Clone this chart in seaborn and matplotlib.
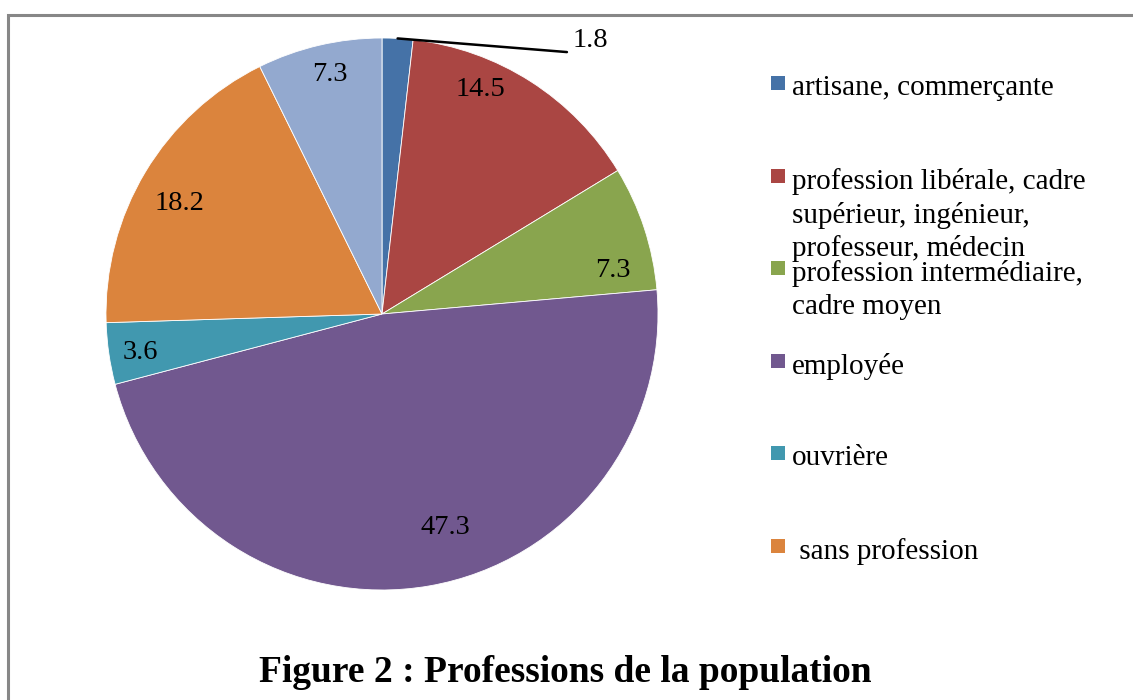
import matplotlib
matplotlib.use("Agg")
import matplotlib.pyplot as plt
from matplotlib.patches import Rectangle
import numpy as np
import seaborn as sns

# Données
valeurs = [1.8, 14.5, 7.3, 47.3, 3.6, 18.2, 7.3]
etiquettes = ["1.8", "14.5", "7.3", "47.3", "3.6", "18.2", "7.3"]
legende = [
    "artisane, commerçante",
    "profession libérale, cadre\nsupérieur, ingénieur,\nprofesseur, médecin",
    "profession intermédiaire,\ncadre moyen",
    "employée",
    "ouvrière",
    " sans profession",
]
couleurs = ["#4572A7", "#AA4643", "#89A54E", "#71588F", "#4198AF", "#DB843D", "#93A9CF"]

# Position des étiquettes (unités du rayon)
pos_etiquettes = [(0.69, 0.99), (0.355, 0.815), (0.837, 0.159), (0.228, -0.775),
                  (-0.877, -0.138), (-0.732, 0.40), (-0.188, 0.866)]

sns.set_theme(style="white")
plt.rcParams['font.family'] = ['Liberation Serif', 'DejaVu Serif']

fig = plt.figure(figsize=(11.33, 7.0), dpi=100)
ax = fig.add_axes([106 / 1133, 110 / 700, 552 / 1133, 552 / 700])

palette = sns.color_palette(couleurs)
wedges, _ = ax.pie(valeurs, colors=palette, startangle=90, counterclock=False,
                   radius=1, wedgeprops=dict(edgecolor='white', linewidth=0.6))
ax.set_xlim(-1, 1)
ax.set_ylim(-1, 1)
ax.set_aspect('equal')
ax.axis('off')

for i, (txt, (x, y)) in enumerate(zip(etiquettes, pos_etiquettes)):
    ax.text(x, y, txt, fontsize=20.5, ha='left' if i == 0 else 'center', va='center', color='black')

# Ligne de rappel pour la petite part
w0 = wedges[0]
ang = np.deg2rad((w0.theta1 + w0.theta2) / 2)
ax.plot([np.cos(ang), 0.670], [np.sin(ang), 0.949], color='black', lw=1.8, clip_on=False)

# Légende
y0 = 1 - 83 / 700
pas = 92.6 / 700
for i, lab in enumerate(legende):
    y = y0 - i * pas
    fig.add_artist(Rectangle((771 / 1133, y - 7 / 700), 14 / 1133, 14 / 700,
                             transform=fig.transFigure, facecolor=couleurs[i], edgecolor='none'))
    fig.text(792 / 1133, y + 8 / 700, lab, fontsize=21, ha='left', va='top',
             linespacing=1.33, color='black')

fig.text(565 / 1133, 1 - 672 / 700, "Figure 2 : Professions de la population",
         fontsize=27, fontweight='bold', ha='center', va='center', color='black')

# Cadre
fig.add_artist(Rectangle((8 / 1133, -0.1), 1.2, (700 - 15) / 700 + 0.1,
                         transform=fig.transFigure, fill=False, edgecolor='#878787', lw=2.2))

plt.savefig("out.png", dpi=100)
